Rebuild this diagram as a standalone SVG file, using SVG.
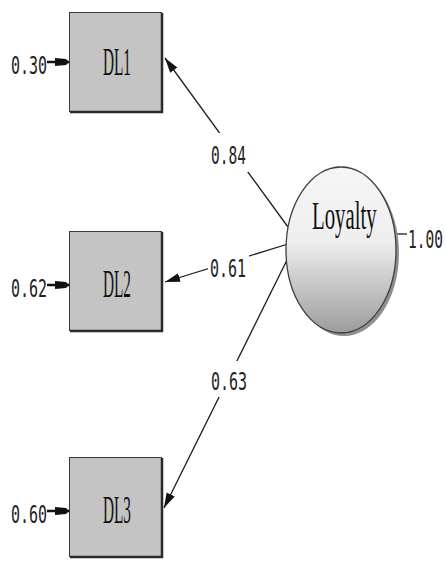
<svg xmlns="http://www.w3.org/2000/svg" width="446" height="562" viewBox="0 0 446 562">
  <style>
    .box { fill: #c4c4c4; stroke: #3a3a3a; stroke-width: 1; }
    .shade { stroke: #2a2a2a; stroke-width: 2.5; fill: none; }
    .name { font-family: "Liberation Serif", "Times New Roman", serif; font-size: 40px; fill: #111; }
    .num { font-family: "DejaVu Sans Mono", "Liberation Mono", monospace; font-size: 25px; fill: #222; }
    .path { stroke: #1e1e1e; stroke-width: 1.3; fill: none; }
    .err { stroke: #111; stroke-width: 2.5; fill: none; }
    .bg { fill: #ffffff; }
  </style>
  <defs>
    <linearGradient id="latentFill" x1="0" y1="0" x2="0" y2="1">
      <stop offset="0" stop-color="#f6f6f6"/>
      <stop offset="0.45" stop-color="#eeeeee"/>
      <stop offset="1" stop-color="#9c9c9c"/>
    </linearGradient>
    <marker id="head" markerUnits="userSpaceOnUse" viewBox="0 -5 15 10" refX="15" refY="0" markerWidth="15" markerHeight="10" orient="auto">
      <path d="M0,-4.5 L15,0 L0,4.5 z" fill="#111"/>
    </marker>
    <marker id="errHead" markerUnits="userSpaceOnUse" viewBox="0 -5 14 10" refX="14" refY="0" markerWidth="14" markerHeight="10" orient="auto">
      <path d="M0,-4 L11,-3 L14,0 L11,3 L0,4 z" fill="#111"/>
    </marker>
  </defs>

  <rect width="446" height="562" fill="#ffffff"/>

  <!-- factor loadings and error terms -->
  <g id="connectors">
    <line class="path" x1="288" y1="227" x2="165" y2="58" marker-end="url(#head)"/>
    <line class="path" x1="288" y1="244" x2="165" y2="282" stroke-width="2" marker-end="url(#head)"/>
    <line class="path" x1="288" y1="258" x2="164" y2="508" marker-end="url(#head)"/>
    <line class="path" x1="396" y1="234" x2="407" y2="234" stroke="#777" stroke-width="2"/>
    <line class="err" x1="47" y1="62" x2="69" y2="62" marker-end="url(#errHead)"/>
    <line class="err" x1="47" y1="285" x2="69" y2="285" marker-end="url(#errHead)"/>
    <line class="err" x1="47" y1="511" x2="69" y2="511" marker-end="url(#errHead)"/>

    <rect class="bg" x="207" y="133" width="44" height="39"/>
    <text class="num" transform="translate(211,164) scale(0.58,1)">0.84</text>
    <rect class="bg" x="208" y="255" width="41" height="24"/>
    <text class="num" transform="translate(210,277) scale(0.6,1)">0.61</text>
    <rect class="bg" x="207" y="361" width="44" height="36"/>
    <text class="num" transform="translate(211,390) scale(0.6,1)">0.63</text>
  </g>

  <g id="DL1">
    <rect class="box" x="69.5" y="12.5" width="92" height="99"/>
    <polyline class="shade" points="70,112 162,112 162,13"/>
    <text class="name" transform="translate(103,75) scale(0.382,1)">DL1</text>
    <text class="num" transform="translate(11,74) scale(0.6,1)">0.30</text>
  </g>

  <g id="DL2">
    <rect class="box" x="69.5" y="231.5" width="92" height="99"/>
    <polyline class="shade" points="70,331 162,331 162,232"/>
    <text class="name" transform="translate(103,297) scale(0.382,1)">DL2</text>
    <text class="num" transform="translate(11,297) scale(0.6,1)">0.62</text>
  </g>

  <g id="DL3">
    <rect class="box" x="69.5" y="457.5" width="92" height="99"/>
    <polyline class="shade" points="70,557 162,557 162,458"/>
    <text class="name" transform="translate(103,523) scale(0.382,1)">DL3</text>
    <text class="num" transform="translate(11,523) scale(0.6,1)">0.60</text>
  </g>

  <g id="Loyalty">
    <ellipse cx="344" cy="253" rx="55" ry="83" fill="#8f8f8f"/>
    <ellipse cx="341" cy="250" rx="55" ry="83" fill="url(#latentFill)" stroke="#404040" stroke-width="1.3"/>
    <text class="name" font-size="39" transform="translate(312,229) scale(0.52,1)">Loyalty</text>
    <text class="num" transform="translate(408,248) scale(0.58,1)">1.00</text>
  </g>
</svg>
